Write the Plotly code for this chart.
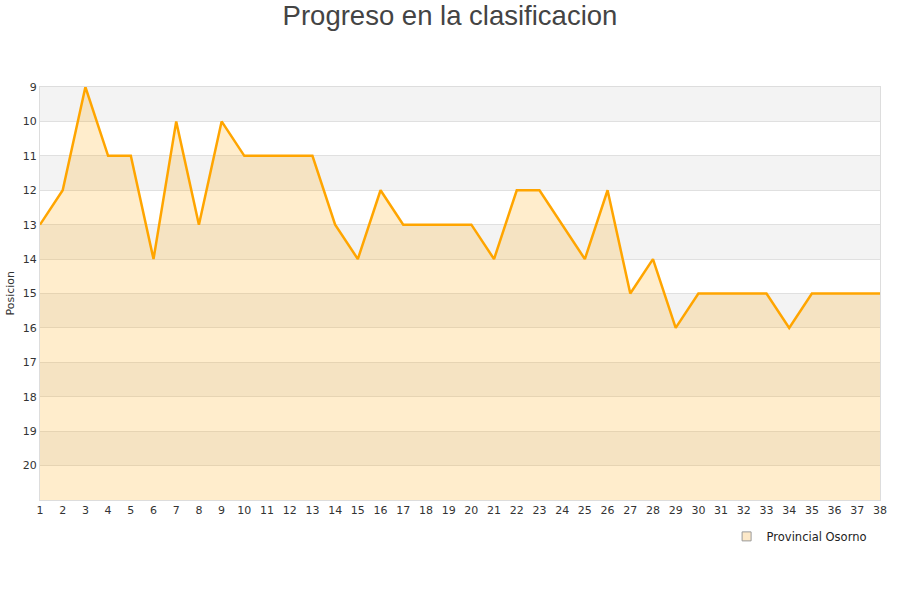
import plotly.graph_objects as go

jornadas = list(range(1, 39))
posiciones = [13, 12, 9, 11, 11, 14, 10, 13, 10, 11, 11, 11, 11, 13, 14, 12, 13, 13, 13, 13,
              14, 12, 12, 13, 14, 12, 15, 14, 16, 15, 15, 15, 15, 16, 15, 15, 15, 15]
y_ticks = list(range(9, 21))
equipo = "Provincial Osorno"
fondo = 21

fig = go.Figure()

# alternating bands
for lo in range(9, 21, 2):
    fig.add_shape(type="rect", xref="paper", yref="y", x0=0, x1=1, y0=lo, y1=lo + 1,
                  fillcolor="#f3f3f3", line_width=0, layer="below")

fig.add_trace(go.Scatter(x=jornadas, y=[fondo] * len(jornadas), mode="lines",
                         line=dict(width=0, color="rgba(0,0,0,0)"), showlegend=False,
                         hoverinfo="skip"))
fig.add_trace(go.Scatter(x=jornadas, y=posiciones, mode="lines", fill="tonexty",
                         fillcolor="rgba(255,165,0,0.2)",
                         line=dict(color="#ffa500", width=2.5), showlegend=False,
                         name=equipo))
fig.add_trace(go.Scatter(x=[None], y=[None], mode="markers", name=equipo,
                         marker=dict(symbol="square", size=9, color="#fde9c9",
                                     line=dict(color="#9a9a9a", width=1))))

fig.add_annotation(text="Posicion", xref="paper", yref="paper", x=-30 / 840, y=0.5,
                   xanchor="center", yanchor="middle", textangle=-90, showarrow=False,
                   font=dict(size=11, color="#333333"))

fig.update_layout(
    width=900, height=600,
    paper_bgcolor="white", plot_bgcolor="white",
    margin=dict(l=40, r=20, t=87, b=100, autoexpand=False),
    title=dict(text="Progreso en la clasificacion", x=0.5, xanchor="center", y=0.975,
               yanchor="middle",
               font=dict(family="Liberation Sans, Arial", size=27.5, color="#444444")),
    font=dict(family="DejaVu Sans", size=11, color="#333333"),
    xaxis=dict(range=[1, 38], tickmode="array", tickvals=jornadas, automargin=False,
               showgrid=False, zeroline=False, showline=True, linecolor="#dddddd",
               mirror=True, ticks="", tickfont=dict(size=11, color="#333333")),
    yaxis=dict(range=[21, 9], tickmode="array", tickvals=y_ticks, showgrid=True,
               automargin=False,
               gridcolor="#e0e0e0", zeroline=False, showline=True, linecolor="#dddddd",
               mirror=True, ticks="", tickfont=dict(size=11, color="#333333")),
    legend=dict(x=0.99, y=-0.053, xanchor="right", yanchor="top", orientation="h",
                font=dict(size=11.5, color="#222222"), bgcolor="rgba(0,0,0,0)",
                itemwidth=30),
    showlegend=True,
)

fig.write_html("out.html", config={"displayModeBar": False},
               post_script="document.body.style.margin='0';document.body.style.padding='0';")
